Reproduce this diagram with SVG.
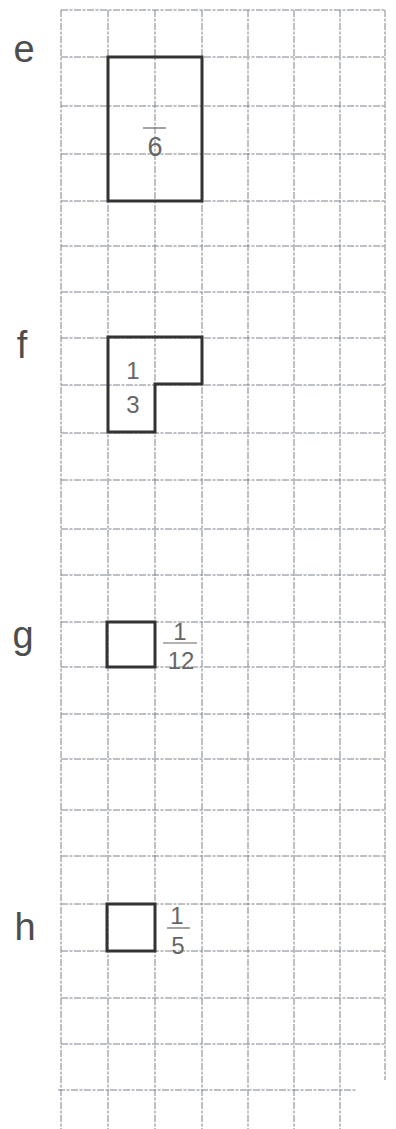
<svg xmlns="http://www.w3.org/2000/svg" width="396" height="1129" viewBox="0 0 396 1129">
<style>
.grid line{stroke:#7d838b;stroke-width:1;stroke-dasharray:7 1.5 3 1.5}
.shape{fill:none;stroke:#333;stroke-width:3;stroke-linejoin:miter}
.lbl{font-family:"Liberation Sans",Arial,sans-serif;font-size:38px;fill:#4d4d4d;text-anchor:middle}
.num{font-family:"Liberation Sans",Arial,sans-serif;font-size:24px;fill:#666;text-anchor:middle}
.bar{stroke:#666;stroke-width:1.2}
</style>
<rect width="396" height="1129" fill="#ffffff"/>
<g id="grid" class="grid">
<line x1="61" y1="10" x2="61" y2="1129"/>
<line x1="108" y1="10" x2="108" y2="1129"/>
<line x1="155" y1="10" x2="155" y2="1129"/>
<line x1="202" y1="10" x2="202" y2="1129"/>
<line x1="248" y1="10" x2="248" y2="1129"/>
<line x1="294" y1="10" x2="294" y2="1129"/>
<line x1="340" y1="10" x2="340" y2="1129"/>
<line x1="385" y1="10" x2="385" y2="1080"/>
<line x1="61" y1="10" x2="386" y2="10"/>
<line x1="61" y1="57" x2="386" y2="57"/>
<line x1="61" y1="106" x2="386" y2="106"/>
<line x1="61" y1="154" x2="386" y2="154"/>
<line x1="61" y1="201" x2="386" y2="201"/>
<line x1="61" y1="246" x2="386" y2="246"/>
<line x1="61" y1="292" x2="386" y2="292"/>
<line x1="61" y1="338" x2="386" y2="338"/>
<line x1="61" y1="385" x2="386" y2="385"/>
<line x1="61" y1="433" x2="386" y2="433"/>
<line x1="61" y1="480" x2="386" y2="480"/>
<line x1="61" y1="529" x2="386" y2="529"/>
<line x1="61" y1="575" x2="386" y2="575"/>
<line x1="61" y1="622" x2="386" y2="622"/>
<line x1="61" y1="667" x2="386" y2="667"/>
<line x1="61" y1="714" x2="386" y2="714"/>
<line x1="61" y1="759" x2="386" y2="759"/>
<line x1="61" y1="810" x2="386" y2="810"/>
<line x1="61" y1="856" x2="386" y2="856"/>
<line x1="61" y1="904" x2="386" y2="904"/>
<line x1="61" y1="951" x2="386" y2="951"/>
<line x1="61" y1="998" x2="386" y2="998"/>
<line x1="61" y1="1044" x2="386" y2="1044"/>
<line x1="58" y1="1090" x2="356" y2="1090"/>
</g>
<g id="e">
<text class="lbl" x="24" y="62">e</text>
<rect class="shape" x="108" y="57" width="94" height="144"/>
<line class="bar" x1="143" y1="128" x2="166" y2="128"/>
<text class="num" x="155" y="156" style="font-size:27px">6</text>
</g>
<g id="f">
<text class="lbl" x="22" y="358">f</text>
<path class="shape" d="M108 337 H202 V384 H155 V432 H108 Z"/>
<text class="num" x="133" y="379">1</text>
<text class="num" x="133" y="413">3</text>
</g>
<g id="g">
<text class="lbl" x="23" y="648">g</text>
<rect class="shape" x="107" y="622" width="48" height="45"/>
<text class="num" x="180" y="640">1</text>
<line class="bar" x1="163" y1="643" x2="197" y2="643"/>
<text class="num" x="181" y="669">12</text>
</g>
<g id="h">
<text class="lbl" x="25" y="940">h</text>
<rect class="shape" x="107" y="904" width="48" height="47"/>
<text class="num" x="177" y="924">1</text>
<line class="bar" x1="167" y1="928" x2="190" y2="928"/>
<text class="num" x="178" y="954">5</text>
</g>
</svg>
